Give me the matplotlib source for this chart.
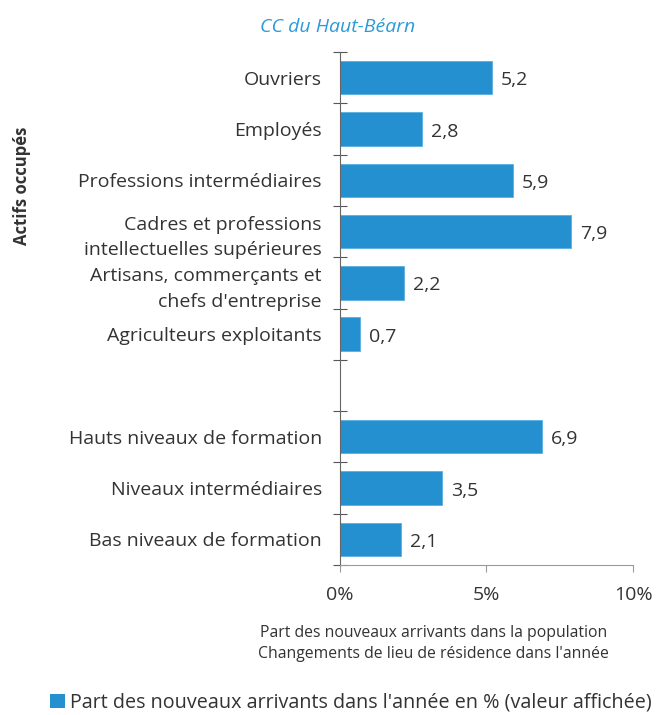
import numpy as np
import matplotlib
matplotlib.use("Agg")
import matplotlib.pyplot as plt
from matplotlib.patches import Patch

plt.rcParams['font.family'] = ['Open Sans', 'DejaVu Sans']

categories = [
    "Ouvriers",
    "Employés",
    "Professions intermédiaires",
    "Cadres et professions\nintellectuelles supérieures",
    "Artisans, commerçants et\nchefs d'entreprise",
    "Agriculteurs exploitants",
    "",
    "Hauts niveaux de formation",
    "Niveaux intermédiaires",
    "Bas niveaux de formation",
]
values = [5.2, 2.8, 5.9, 7.9, 2.2, 0.7, np.nan, 6.9, 3.5, 2.1]
value_labels = ["5,2", "2,8", "5,9", "7,9", "2,2", "0,7", "", "6,9", "3,5", "2,1"]
xticks = [0, 5, 10]
xtick_labels = ["0%", "5%", "10%"]

bar_color = "#2590d0"
grey = "#9a9a9a"
text_color = "#333333"

fig = plt.figure(figsize=(6.56, 7.15), dpi=100)
ax = fig.add_axes([0.518, 0.21, 0.447, 0.717])

pos = np.arange(len(categories))
ax.barh(pos, values, height=0.65, color=bar_color, edgecolor="#5ab0e0", linewidth=0.6)
for p, v, lab in zip(pos, values, value_labels):
    if lab:
        ax.text(v + 0.3, p + 0.05, lab, va="center", ha="left", fontsize=14, color=text_color)

ax.set_ylim(len(categories) - 0.5, -0.5)
ax.set_xlim(0, 10)

ax.set_yticks(pos)
ax.set_yticklabels(categories, fontsize=14, color=text_color, linespacing=1.55)
ax.tick_params(axis="y", which="major", length=0, pad=13)
ax.set_yticks(np.arange(-0.5, len(categories), 1), minor=True)
ax.tick_params(axis="y", which="minor", length=10, direction="inout", color="#555555", width=0.8)

ax.set_xticks(xticks)
ax.set_xticklabels(xtick_labels, fontsize=14, color=text_color)
ax.tick_params(axis="x", length=5, direction="out", color=grey, width=0.8, pad=10)

for s in ["top", "right"]:
    ax.spines[s].set_visible(False)
ax.spines["left"].set_color("#666666")
ax.spines["left"].set_linewidth(0.8)
ax.spines["bottom"].set_color(grey)
ax.spines["bottom"].set_linewidth(0.8)

ax.set_xlabel("Part des nouveaux arrivants dans la population\nChangements de lieu de résidence dans l'année",
              fontsize=11.3, color=text_color, linespacing=1.35)
ax.xaxis.set_label_coords(0.32, -0.118)

fig.text(0.514, 0.962, "CC du Haut-Béarn", ha="center", va="center",
         fontsize=14, style="italic", color="#2a9ad8")
fig.text(0.033, 0.74, "Actifs occupés", rotation=90, ha="center", va="center",
         fontsize=12, fontweight="bold", color=text_color)

fig.legend(handles=[Patch(facecolor=bar_color)],
           labels=["Part des nouveaux arrivants dans l'année en % (valeur affichée)"],
           loc="center", bbox_to_anchor=(0.535, 0.017), frameon=False, fontsize=14.2,
           handlelength=0.75, handleheight=0.75, handletextpad=0.25, labelcolor=text_color,
           borderaxespad=0, borderpad=0.2)

fig.savefig("out.png", dpi=100)
